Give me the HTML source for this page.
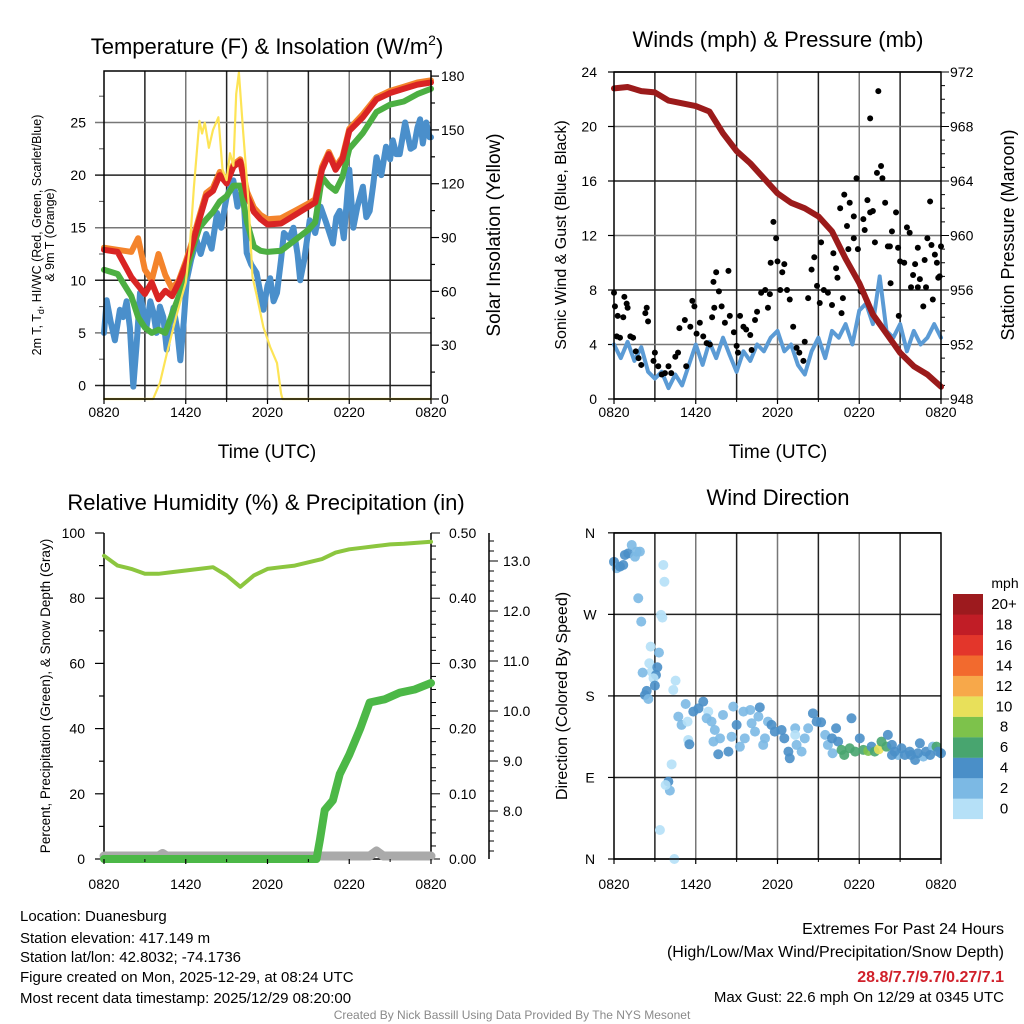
<!DOCTYPE html>
<html><head><meta charset="utf-8"><style>
body{margin:0;background:#fff}
svg{display:block;font-family:"Liberation Sans",sans-serif}
</style></head><body>
<svg id="root" width="1024" height="1024" viewBox="0 0 1024 1024" xmlns="http://www.w3.org/2000/svg">
<rect width="1024" height="1024" fill="#fff"/>
<g id="p1"></g>
<g id="p2"></g>
<g id="p3"></g>
<g id="p4"></g>
<g id="txt" font-size="22" fill="#000">
<text x="267" y="54" text-anchor="middle">Temperature (F) &amp; Insolation (W/m<tspan font-size="14" dy="-9">2</tspan><tspan dy="9">)</tspan></text>
<text x="778" y="47" text-anchor="middle">Winds (mph) &amp; Pressure (mb)</text>
<text x="266" y="510" text-anchor="middle">Relative Humidity (%) &amp; Precipitation (in)</text>
<text x="778" y="505" text-anchor="middle">Wind Direction</text>
<text x="267" y="458" text-anchor="middle" font-size="19">Time (UTC)</text>
<text x="778" y="458" text-anchor="middle" font-size="19">Time (UTC)</text>
<text transform="translate(41,235) rotate(-90)" text-anchor="middle" font-size="12.5">2m T, T<tspan font-size="9" dy="3">d</tspan><tspan dy="-3">, HI/WC (Red, Green, Scarlet/Blue)</tspan></text>
<text transform="translate(54,235) rotate(-90)" text-anchor="middle" font-size="12.5">&amp; 9m T (Orange)</text>
<text transform="translate(500,235) rotate(-90)" text-anchor="middle" font-size="19">Solar Insolation (Yellow)</text>
<text transform="translate(566,235) rotate(-90)" text-anchor="middle" font-size="16">Sonic Wind &amp; Gust (Blue, Black)</text>
<text transform="translate(1014,235) rotate(-90)" text-anchor="middle" font-size="18">Station Pressure (Maroon)</text>
<text transform="translate(50,696) rotate(-90)" text-anchor="middle" font-size="13.5">Percent, Precipitation (Green), &amp; Snow Depth (Gray)</text>
<text transform="translate(567,696) rotate(-90)" text-anchor="middle" font-size="16">Direction (Colored By Speed)</text>
</g>
<g font-size="15">
<text x="20" y="921">Location: Duanesburg</text>
<text x="20" y="943">Station elevation: 417.149 m</text>
<text x="20" y="962">Station lat/lon: 42.8032; -74.1736</text>
<text x="20" y="982">Figure created on Mon, 2025-12-29, at 08:24 UTC</text>
<text x="20" y="1003">Most recent data timestamp: 2025/12/29 08:20:00</text>
</g>
<g font-size="16" text-anchor="end">
<text x="1004" y="934">Extremes For Past 24 Hours</text>
<text x="1004" y="957">(High/Low/Max Wind/Precipitation/Snow Depth)</text>
<text x="1004" y="982" fill="#d0202a" font-weight="bold">28.8/7.7/9.7/0.27/7.1</text>
<text x="1004" y="1002" font-size="15">Max Gust: 22.6 mph On 12/29 at 0345 UTC</text>
</g>
<text x="512" y="1019" text-anchor="middle" font-size="12" fill="#8a8a8a">Created By Nick Bassill Using Data Provided By The NYS Mesonet</text>
</svg>
<script>
// ---------- data ----------
const xTickLabels = ["0820","1420","2020","0220","0820"];
const tempTimes = [0,1,2,2.5,3,3.5,4,4.5,5,5.5,6,6.5,7,7.5,8,8.5,9,9.5,10,10.5,11,11.5,12,13,14,15,15.5,16,16.5,17,17.5,18,19,20,21,22,23,24];
const tempRed = [12.9,12.7,10.3,9.5,8.7,9.8,8.2,9.0,8.5,9.8,11.5,13.5,15.8,18.0,18.5,20.0,19.2,20.8,21.3,18.0,16.5,15.8,15.3,15.4,16.2,17.0,17.4,20.5,22.0,20.5,21.5,24.2,25.5,27.2,27.8,28.2,28.6,28.8];
const temp9m = [13.1,12.9,12.7,14.0,11.0,10.0,12.5,10.5,9.2,10.0,11.8,13.8,16.1,18.3,18.8,20.3,19.5,21.0,21.5,18.4,16.9,16.2,15.8,15.9,16.6,17.3,17.7,20.8,22.2,20.8,21.7,24.4,25.8,27.4,28.0,28.4,28.8,29.0];
const hiwc = [11.0,10.6,8.5,6.5,5.5,5.0,5.3,5.0,6.8,8.5,10.5,13.0,15.0,15.8,16.5,17.5,18.0,19.0,19.0,15.5,13.2,12.8,12.7,12.8,13.8,14.8,15.5,19.8,19.0,18.5,19.8,22.5,24.0,26.0,26.7,27.0,27.7,28.2];
const dewTimes = [0,0.2,0.5,0.8,1.17,1.4,1.66,1.9,2.15,2.4,2.64,2.9,3.13,3.4,3.62,3.85,4.1,4.35,4.6,4.85,5.1,5.35,5.6,5.85,6.07,6.4,6.8,7.1,7.5,7.9,8.3,8.6,9.0,9.5,9.8,10.2,10.47,10.8,11.2,11.45,11.7,12.0,12.2,12.45,12.7,13.0,13.2,13.6,13.9,14.2,14.4,14.7,15.1,15.5,15.9,16.3,16.8,17.05,17.3,17.6,18.0,18.3,18.6,19.0,19.25,19.5,19.75,20.0,20.35,20.7,21.0,21.2,21.45,21.7,22.1,22.5,22.75,23,23.2,23.4,23.65,23.9,24];
const dewpoint = [5.0,8.1,6.0,4.3,7.2,6.5,8.0,5.5,-0.1,4.0,8.8,7.0,5.6,8.0,7.0,5.0,7.5,6.5,3.4,6.0,7.4,5.5,2.4,6.0,10.0,12.0,13.8,12.5,14.4,13.0,16.4,15.0,17.9,19.5,17.0,18.9,12.6,11.5,10.7,9.0,7.2,9.5,10.2,8.0,8.8,12.0,14.5,14.0,15.0,12.5,10.0,12.0,15.7,14.5,17.0,15.5,13.5,16.0,16.6,14.0,20.5,15.0,17.0,18.9,16.0,16.6,19.0,21.7,20.0,22.7,21.5,23.3,22.0,22.0,25.0,22.5,22.7,24.5,25.3,23.0,25.0,23.6,23.6];
const solarTimes = [0,3.6,4.1,4.6,5.3,6.0,6.3,6.6,7.0,7.2,7.4,7.7,8.0,8.4,8.7,9.0,9.25,9.5,9.7,9.9,10.2,10.6,10.9,11.2,11.7,12.2,12.7,13.0,13.1,24];
const solar = [0,0,9,25,46,65,85,118,155,148,154,140,150,157,128,122,137,130,170,182,150,111,68,58,40,29,20,3,0,0];
const windTimes = [0,0.5,1,1.5,2,2.5,3,3.5,4,4.5,5,5.5,6,6.5,7,7.5,8,8.5,9,9.5,10,10.5,11,11.5,12,12.5,13,13.5,14,14.5,15,15.5,16,16.5,17,17.5,18,18.5,19,19.5,20,20.5,21,21.5,22,22.5,23,23.5,24];
const sonicWind = [4.0,3.0,4.2,2.8,3.8,2.0,1.5,2.0,0.8,1.8,1.0,2.5,4.0,2.5,4.2,3.0,4.5,3.2,2.0,3.5,2.8,4.0,3.5,4.5,5.0,3.5,4.0,2.5,1.8,3.5,4.5,3.0,5.0,4.5,5.5,4.0,6.5,7.0,5.5,9.0,5.0,4.5,5.5,3.5,5.0,4.0,4.5,5.5,4.5];
const gustTimes = [0,0.07,0.27,0.2,0.44,0.68,0.76,0.93,1.0,1.2,1.4,1.6,1.8,2.0,2.3,2.4,2.5,2.9,3.0,3.25,3.5,3.74,4.0,4.2,4.5,4.7,4.8,5.2,5.3,5.6,5.75,5.9,6.06,6.3,6.55,6.8,7.04,7.2,7.36,7.3,7.5,7.7,7.9,8.14,8.4,8.5,8.8,9.0,9.1,9.25,9.5,9.7,10.0,10.1,10.35,10.5,10.8,11.1,11.3,11.44,11.5,11.7,11.9,12.0,12.2,12.35,12.5,12.7,12.9,13.15,13.4,13.6,13.9,14.0,14.25,14.5,14.7,14.9,15.1,15.2,15.4,15.7,16.0,16.1,16.3,16.4,16.6,16.7,16.8,16.9,17.1,17.2,17.3,17.6,17.6,17.8,17.9,18.1,18.3,18.4,18.6,18.8,18.8,19.0,19.15,19.4,19.3,19.6,19.7,19.9,20.1,20.25,20.3,20.4,20.7,20.85,20.9,21.0,21.3,21.5,21.7,21.8,21.95,22.1,22.3,22.3,22.45,22.7,22.8,22.9,23.0,23.2,23.3,23.4,23.55,23.7,23.8,23.9,24];
const gusts = [7.8,6.8,6.1,4.6,4.5,6.0,7.5,7.0,6.7,4.6,4.5,3.5,3.0,2.5,6.3,6.7,5.7,2.8,3.4,2.4,1.8,1.9,2.4,1.9,3.1,3.4,5.2,5.8,2.4,5.3,7.2,6.8,4.8,5.6,4.6,4.1,4.0,6.0,6.7,8.6,9.3,7.9,6.8,5.6,9.4,6.1,4.9,3.9,3.4,6.1,5.3,5.1,4.7,3.6,5.8,6.4,7.8,8.0,6.7,7.7,10.0,13.0,11.8,10.1,8.0,9.3,9.9,8.0,7.3,5.3,3.75,3.4,2.8,4.2,7.4,9.5,10.4,8.3,7.05,11.5,8.0,7.8,6.9,10.7,9.6,8.9,14.0,6.3,7.4,15.0,12.7,11.0,14.4,13.4,11.8,16.2,11.0,7.9,13.2,12.4,14.6,13.7,20.6,13.8,11.5,22.6,16.6,17.1,16.2,14.4,11.2,11.2,8.5,12.3,13.7,11.1,6.1,10.1,10.0,12.6,12.2,8.2,9.1,9.9,11.1,8.2,8.8,6.8,10.2,8.2,11.8,14.5,11.3,7.3,10.6,10.0,8.9,9.0,11.2];
const pressTimes = [0,1,2,3,4,5,6,7,8,9,10,11,12,13,14,15,16,17,18,19,20,21,22,23,24];
const pressure = [970.8,970.9,970.6,970.5,969.9,969.7,969.5,969.1,967.5,966.2,965.3,964.2,963.1,962.4,962.0,961.4,960.3,958.3,956.5,954.2,952.8,951.4,950.4,949.8,948.9];
const rhTimes = [0,1,2,3,4,5,6,7,8,9,10,11,12,13,14,15,16,17,18,19,20,21,22,23,24];
const rh = [93,90,89,87.5,87.5,88,88.5,89,89.5,87,83.5,87,89,89.5,90,91,92,94,95,95.5,96,96.5,96.7,97,97.3];
const precipTimes = [0,15.6,15.85,16.2,16.8,17.3,18,18.8,19.5,20.6,21.7,22.8,24];
const precip = [0,0,0.03,0.075,0.09,0.13,0.16,0.2,0.24,0.245,0.255,0.26,0.27];
const snowTimes = [0,4,4.3,4.6,19.5,20,20.5,24];
const snowDepth = [7.1,7.1,7.15,7.1,7.1,7.2,7.1,7.1];
const dirTimes = [0,0.2,0.44,0.68,0.8,1.05,1.3,1.54,1.66,1.9,1.78,2.0,3.62,3.7,3.45,3.55,2.69,3.3,2.59,2.76,2.1,3.18,3.08,2.9,3.0,4.52,4.35,2.27,2.4,2.52,5.26,4.72,4.96,5.4,5.45,5.53,4.1,4.23,3.99,3.79,3.37,4.43,5.82,6.2,6.55,6.92,6.8,7.16,7.4,7.3,7.78,8.0,7.65,8.4,8.63,8.75,9.0,9.24,9.5,9.6,10.0,10.1,10.35,10.6,10.7,10.95,11.08,11.3,11.56,11.8,12.3,12.5,12.8,12.9,13.3,13.3,13.4,13.77,14.0,14.25,14.6,14.87,15.2,15.5,15.7,16.0,16.04,16.3,16.45,16.7,16.9,17.3,17.43,17.7,18.04,18.3,18.66,18.9,19.14,19.44,19.63,20.0,20.1,20.4,20.85,21.1,21.35,21.7,22.1,22.45,22.7,22.9,23.4,23.67,24,23.8,20.6,21.8,22.3,23.2,20.4];
const dirDegrees = [328,321,322.7,324.5,335.6,337.4,346.6,333.7,339.3,339.3,287.8,262,324.5,306,269.4,266.4,234.4,227.8,216,206.8,205.7,211.6,203.1,199.5,191.4,196.9,186.6,181,185.5,176.6,171.1,157.2,148,151.6,131.4,126.6,75.5,104.5,85.4,81.7,32,0,162.7,166.3,173.7,162.7,155.3,151.6,142.4,129.6,133.2,159,115.6,118.5,135,168.2,148,124,162.7,133.2,164.5,149.8,140.6,157.2,167.4,125.9,133.2,151.6,148,140.6,142.4,133.2,118.5,111.2,144.3,137,125.9,118.5,133.2,144.3,160.8,151.6,150.9,137,125.9,133.2,116.7,144.3,129.6,120.4,114.8,122.2,155.3,118.5,133.2,120.4,119.2,124,118.5,121.1,129.6,124,137,125.9,114.8,122.2,114.8,118.5,109.3,127.7,113,118.5,124,124,116.7,118.5,118.5,114.8,116.7,114.8,114.8];
const dirSpeeds = [5,3,5,5,5,5,3,3,3,3,3,3,1,1,1,1,1,3,1,1,3,5,5,1,5,1,1,5,5,3,3,3,3,1,1,5,3,1,5,1,1,1,5,5,5,1,3,3,3,3,3,3,5,5,3,3,5,3,3,3,3,3,3,3,5,3,3,3,5,5,5,5,5,5,3,1,3,3,3,3,5,5,5,3,3,5,3,5,5,7,7,7,5,7,5,7,9,5,7,11,7,7,5,5,3,5,5,5,5,5,3,5,3,7,5,5,5,5,5,5,5];
const speedBins = ["0","2","4","6","8","10","12","14","16","18","20+"];
const speedColors = ["#b5e0f7","#7cb9e4","#4a8fc8","#48a56f","#7dc24b","#e8e05a","#f7a84a","#f26a2e","#e3362b","#c11d26","#9d1a1e"];

// ---------- axis functions ----------
const W = 327;
const xA = t => 104 + t * W / 24;
const xB = t => 614 + t * W / 24;
const yTemp = v => 385.5 - v * 10.52;
const ySolar = v => 399 - v * 1.794;
const yWind = v => 399 - v * 13.625;
const yPress = p => 399 - (p - 948) * 13.625;
const yPct = v => 859 - v * 3.26;
const yPrecip = v => 859 - v * 652;
const ySnow = v => 811 - (v - 8) * 50;
const yDir = d => 859 - d * 0.906;

const NS = "http://www.w3.org/2000/svg";
function mk(parent, tag, attrs) {
  const e = document.createElementNS(NS, tag);
  for (const k in attrs) e.setAttribute(k, attrs[k]);
  parent.appendChild(e);
  return e;
}
function line(parent, x1, y1, x2, y2, stroke, sw, name) {
  const e = mk(parent, "line", {x1, y1, x2, y2, stroke, "stroke-width": sw});
  
  
  return e;
}
function label(parent, x, y, str, anchor, size, name) {
  const e = mk(parent, "text", {x, y, "text-anchor": anchor, "font-size": size});
  e.textContent = str;
  
  
  return e;
}
function series(parent, times, vals, xf, yf, color, sw, name) {
  const pts = times.map((t, i) => xf(t).toFixed(1) + "," + yf(vals[i]).toFixed(1)).join(" ");
  const e = mk(parent, "polyline", {points: pts, fill: "none", stroke: color, "stroke-width": sw, "stroke-linejoin": "round", "stroke-linecap": "round"});
  
  
  return e;
}
function xTicks(parent, xf, yBase, yLab) {
  xTickLabels.forEach((s, i) => {
    const x = xf(i * 6);
    line(parent, x, yBase, x, yBase + 5, "#000", 1.2, "x-tick");
    label(parent, x, yLab, s, "middle", 14, "x-tick-label");
  });
  for (let t = 3; t < 24; t += 6) line(parent, xf(t), yBase, xf(t), yBase + 3, "#000", 1, "x-minor-tick");
}
function vGrid(parent, xf, y1, y2) {
  for (let t = 3; t < 24; t += 3) line(parent, xf(t), y1, xf(t), y2, t % 6 === 0 ? "#777" : "#222", 1.5, "x-gridline");
}

// ---------- panel 1 ----------
const p1 = document.getElementById("p1");
vGrid(p1, xA, 71, 399);
[0,5,10,15,20,25].forEach(v => {
  line(p1, 95, yTemp(v), 431, yTemp(v), v % 10 === 0 ? "#222" : "#777", 1.5, "y-gridline");
  label(p1, 86, yTemp(v) + 5, String(v), "end", 14, "y-tick-label");
});
for (let v = 2.5; v <= 27.5; v += 5) line(p1, 99, yTemp(v), 104, yTemp(v), "#555", 1, "y-minor-tick");
for (let v = 0; v <= 180; v += 15) line(p1, 431, ySolar(v), v % 30 === 0 ? 439 : 435, ySolar(v), "#000", 1.2, "right-tick");
for (let v = 0; v <= 180; v += 30) label(p1, 441, ySolar(v) + 5, String(v), "start", 14, "right-tick-label");
series(p1, dewTimes, dewpoint, xA, yTemp, "#4a8fcb", 6, "dewpoint-line");
series(p1, tempTimes, hiwc, xA, yTemp, "#4caf42", 6, "heat-index-wind-chill-line");
series(p1, tempTimes, temp9m, xA, yTemp, "#f4842c", 6, "temp-9m-line");
series(p1, tempTimes, tempRed, xA, yTemp, "#d92424", 6, "temp-2m-line");
series(p1, solarTimes, solar, xA, ySolar, "#fde456", 2.2, "solar-insolation-line");
mk(p1, "rect", {x: 104, y: 71, width: 327, height: 328, fill: "none", stroke: "#000", "stroke-width": 1.5});
xTicks(p1, xA, 399, 417);

// ---------- panel 2 ----------
const p2 = document.getElementById("p2");
vGrid(p2, xB, 72, 399);
for (let v = 0; v <= 24; v += 4) {
  line(p2, 614, yWind(v), 941, yWind(v), v % 8 === 0 ? "#222" : "#777", 1.5, "y-gridline");
  line(p2, 608, yWind(v), 614, yWind(v), "#000", 1.2, "y-tick");
  label(p2, 597, yWind(v) + 5, String(v), "end", 14, "y-tick-label");
}
for (let p = 948; p <= 972; p += 1) line(p2, 941, yPress(p), p % 4 === 0 ? 949 : 945, yPress(p), "#000", 1, "right-tick");
for (let p = 948; p <= 972; p += 4) label(p2, 950, yPress(p) + 5, String(p), "start", 14, "right-tick-label");
series(p2, windTimes, sonicWind, xB, yWind, "#5b9bd5", 4, "sonic-wind-line");
gustTimes.forEach((t, i) => {
  const c = mk(p2, "circle", {cx: xB(t), cy: yWind(gusts[i]), r: 3, fill: "#000"});
  
  
});
series(p2, pressTimes, pressure, xB, yPress, "#9b1b1b", 6, "pressure-line");
mk(p2, "rect", {x: 614, y: 72, width: 327, height: 327, fill: "none", stroke: "#000", "stroke-width": 1.5});
xTicks(p2, xB, 399, 417);

// ---------- panel 3 ----------
const p3 = document.getElementById("p3");
line(p3, 104, 533, 104, 859, "#000", 1.5, "p3-left-axis");
line(p3, 431, 533, 431, 859, "#000", 1.5, "p3-right-axis");
line(p3, 104, 859, 431, 859, "#000", 1.5, "p3-x-axis");
line(p3, 489, 533, 489, 859, "#000", 1.5, "snow-axis");
for (let v = 0; v <= 100; v += 10) line(p3, v % 20 === 0 ? 95 : 99, yPct(v), 104, yPct(v), "#000", 1.2, "y-tick");
for (let v = 0; v <= 100; v += 20) label(p3, 85, yPct(v) + 5, String(v), "end", 14, "y-tick-label");
for (let i = 0; i <= 25; i++) { const v = i * 0.02; line(p3, 431, yPrecip(v), i % 5 === 0 ? 440 : 436, yPrecip(v), "#000", 1, "precip-tick"); }
for (let i = 0; i <= 5; i++) label(p3, 449, yPrecip(i * 0.1) + 5, (i * 0.1).toFixed(2), "start", 14, "precip-tick-label");
for (let i = 0; i <= 32; i++) { const v = 7.2 + i * 0.2; if (ySnow(v) >= 533 && ySnow(v) <= 859) line(p3, 489, ySnow(v), Math.abs(v - Math.round(v)) < 0.01 ? 498 : 494, ySnow(v), "#000", 1, "snow-tick"); }
for (let v = 8; v <= 13; v++) label(p3, 503, ySnow(v) + 5, v.toFixed(1), "start", 14, "snow-tick-label");
series(p3, snowTimes, snowDepth, xA, ySnow, "#aaaaaa", 9, "snow-depth-line");
series(p3, precipTimes, precip, xA, yPrecip, "#4cb847", 8, "precip-line");
series(p3, rhTimes, rh, xA, yPct, "#8cc63f", 4, "humidity-line");
xTicks(p3, xA, 859, 889);

// ---------- panel 4 ----------
const p4 = document.getElementById("p4");
vGrid(p4, xB, 533, 859);
const dirLabels = ["N","E","S","W","N"];
[0,90,180,270,360].forEach((d, i) => {
  line(p4, 614, yDir(d), 941, yDir(d), "#222", 1.5, "y-gridline");
  line(p4, 608, yDir(d), 614, yDir(d), "#000", 1.2, "y-tick");
  label(p4, 590, yDir(d) + 5, dirLabels[i], "middle", 14, "direction-tick-label");
});
dirTimes.forEach((t, i) => {
  const bin = Math.min(10, Math.floor(dirSpeeds[i] / 2));
  const c = mk(p4, "circle", {cx: xB(t), cy: yDir(dirDegrees[i]), r: 5, fill: speedColors[bin], "fill-opacity": 0.9});
  
  
});
mk(p4, "rect", {x: 614, y: 533, width: 327, height: 326, fill: "none", stroke: "#000", "stroke-width": 1.5});
xTicks(p4, xB, 859, 889);
label(p4, 1005, 588, "mph", "middle", 14, "colorbar-title");
speedBins.forEach((s, i) => {
  const k = speedBins.length - 1 - i;
  const y = 594 + k * 20.45;
  const r = mk(p4, "rect", {x: 953, y: y, width: 30, height: 20.6, fill: speedColors[i]});
  
  
  label(p4, 1004, y + 15, s, "middle", 15, "colorbar-label");
});
</script>
</body></html>
